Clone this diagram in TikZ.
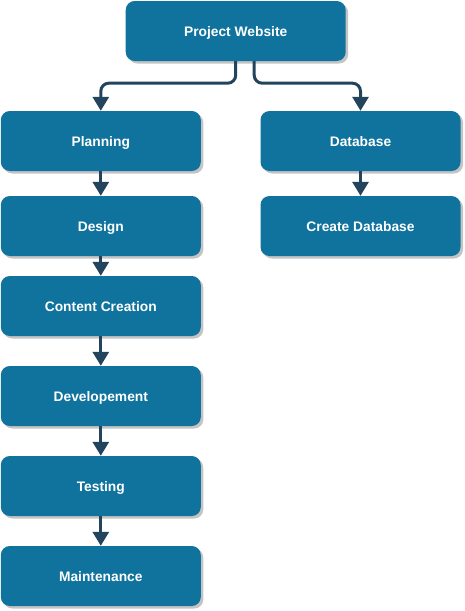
\documentclass[tikz,border=0pt]{standalone}
\usepackage{fontspec}
\setmainfont{Liberation Sans}
\usetikzlibrary{arrows.meta,shadows}
\definecolor{boxfill}{HTML}{10739E}
\definecolor{edgecol}{HTML}{23445D}
\definecolor{shadowcol}{HTML}{C4C4C4}
\begin{document}
\begin{tikzpicture}[x=1pt,y=-1pt,
  box/.style={draw=none, fill=boxfill, rounded corners=9pt, minimum width=200pt, minimum height=60pt,
    inner sep=0pt, text=white, font=\fontsize{13.8}{16}\selectfont\bfseries,
    text height=10pt, text depth=0pt,
    drop shadow={shadow xshift=2.5pt, shadow yshift=-2.5pt, fill=shadowcol, opacity=1}},
  conn/.style={draw=edgecol, line width=3pt, rounded corners=8pt,
    -{Triangle[length=14pt,width=16pt]}}]
\useasboundingbox (0,0) rectangle (464,611);
\node[box, minimum width=220pt] (pw) at (235.7,31) {Project Website};
\node[box] (plan) at (100.8,141) {Planning};
\node[box] (des) at (100.8,226) {Design};
\node[box] (cc) at (100.8,306) {Content Creation};
\node[box] (dev) at (100.8,396) {Developement};
\node[box] (test) at (100.8,486) {Testing};
\node[box] (main) at (100.8,576) {Maintenance};
\node[box] (db) at (360.5,141) {Database};
\node[box] (cdb) at (360.5,226) {Create Database};
\draw[conn] (pw.south) -- ++(0,22) -| (plan.north);
\draw[conn] ([xshift=18.5pt]pw.south) -- ++(0,22) -| (db.north);
\draw[conn] (plan) -- (des);
\draw[conn] (des) -- (cc);
\draw[conn] (cc) -- (dev);
\draw[conn] (dev) -- (test);
\draw[conn] (test) -- (main);
\draw[conn] (db) -- (cdb);
\end{tikzpicture}
\end{document}
